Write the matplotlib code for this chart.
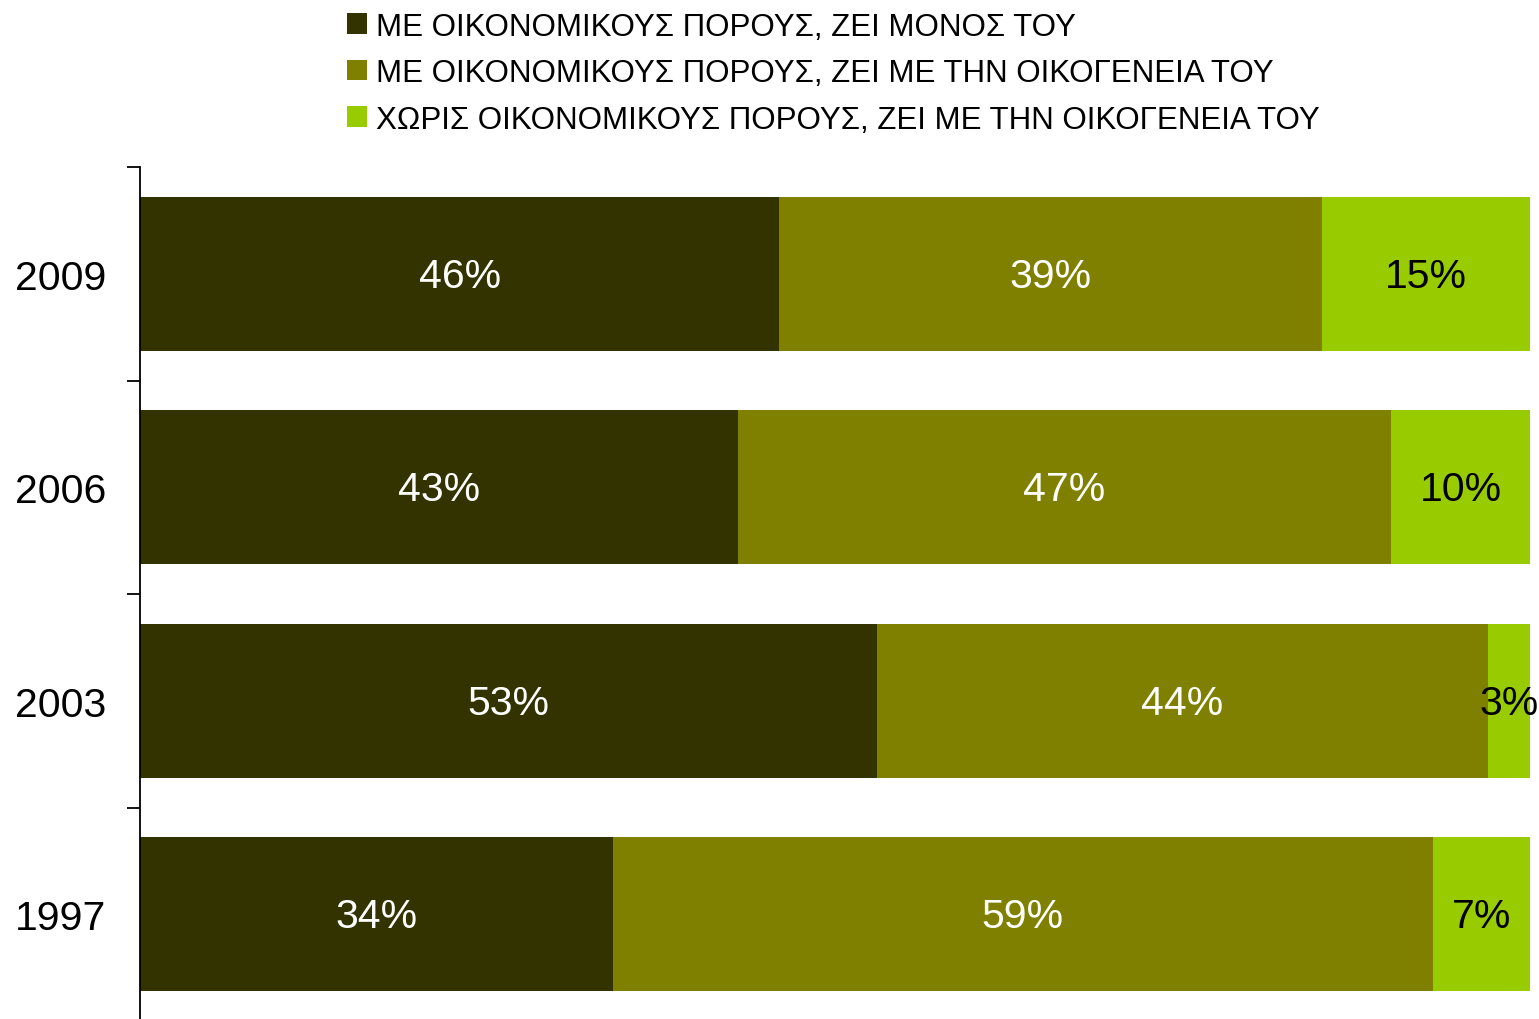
import matplotlib
matplotlib.use("Agg")
import matplotlib.pyplot as plt
from matplotlib.patches import Patch
import numpy as np

plt.rcParams['font.family'] = ['Liberation Sans', 'DejaVu Sans']

years = ["2009", "2006", "2003", "1997"]
series_names = [
    "ΜΕ ΟΙΚΟΝΟΜΙΚΟΥΣ ΠΟΡΟΥΣ, ΖΕΙ ΜΟΝΟΣ ΤΟΥ",
    "ΜΕ ΟΙΚΟΝΟΜΙΚΟΥΣ ΠΟΡΟΥΣ, ΖΕΙ ΜΕ ΤΗΝ ΟΙΚΟΓΕΝΕΙΑ ΤΟΥ",
    "ΧΩΡΙΣ ΟΙΚΟΝΟΜΙΚΟΥΣ ΠΟΡΟΥΣ, ΖΕΙ ΜΕ ΤΗΝ ΟΙΚΟΓΕΝΕΙΑ ΤΟΥ",
]
alone = [46, 43, 53, 34]
family_with = [39, 47, 44, 59]
family_without = [15, 10, 3, 7]
colors = ["#333300", "#808000", "#99CC00"]
label_colors = ["white", "white", "black"]

fig = plt.figure(figsize=(15.39, 10.2), dpi=100)
ax = fig.add_axes([140/1539, -0.002, 1390/1539, 0.8373])

series = [alone, family_with, family_without]
y = np.arange(len(years))
left = np.zeros(len(years))
for vals, col, lc in zip(series, colors, label_colors):
    vals = np.array(vals, dtype=float)
    ax.barh(y, vals, left=left, height=0.72, color=col, edgecolor='none')
    for yi, v, l in zip(y, vals, left):
        ax.text(l + v/2, yi + 0.01, f"{int(v)}%", ha='center', va='center',
                color=lc, fontsize=29.5)
    left += vals

ax.set_xlim(0, 100)
ax.set_ylim(len(years) - 0.5, -0.5)
ax.set_yticks(y)
ax.set_yticklabels(years, fontsize=29.5)
ax.tick_params(axis='y', which='major', length=0, pad=24.5)
ax.set_yticks(np.arange(-0.5, len(years), 1), minor=True)
ax.tick_params(axis='y', which='minor', length=9.4, width=1.3, direction='out')
ax.set_xticks([])
for s in ['top', 'right', 'bottom']:
    ax.spines[s].set_visible(False)
ax.spines['left'].set_linewidth(1.3)

handles = [Patch(facecolor=c, edgecolor='none') for c in colors]
fig.legend(handles, series_names, loc='upper left',
           bbox_to_anchor=(334/1539, 1.0 + 0/1020), frameon=False,
           fontsize=22.5, handlelength=0.64, handleheight=0.64,
           handletextpad=0.29, labelspacing=0.53, borderaxespad=0)

fig.savefig("out.png", dpi=100)
